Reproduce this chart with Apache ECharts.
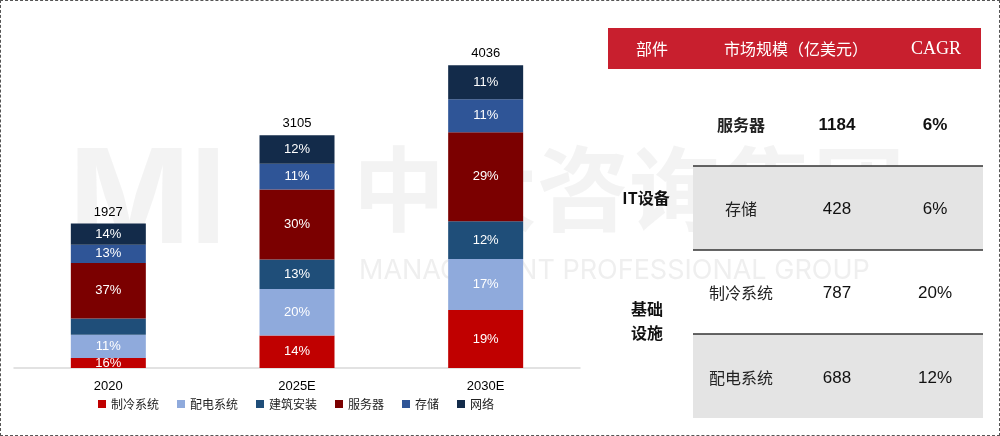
<!DOCTYPE html>
<html>
<head>
<meta charset="utf-8">
<script src="https://cdn.jsdelivr.net/npm/echarts@6/dist/echarts.min.js"></script>
<style>
  html, body { margin: 0; padding: 0; background: #fff; }
  #main { position: absolute; left: 0; top: 0; width: 998px; height: 434px; border: 1px dashed #555; }
</style>
</head>
<body>
<div id="main"></div>
<script>
// 年份
var years = ['2020', '2025E', '2030E'];
var totals = [1927, 3105, 4036];
// 各部件规模（亿美元，按图中柱高估算）
var seriesNames = ['制冷系统', '配电系统', '建筑安装', '服务器', '存储', '网络'];
var colors = ['#c00000', '#8faadc', '#1f4e79', '#7b0000', '#2f5597', '#132b4a'];
var cooling = [135, 434, 773];
var power = [310, 618, 679];
var building = [216, 395, 506];
var server = [740, 934, 1185];
var storage = [243, 342, 440];
var network = [283, 382, 453];
var pctLabels = [
    ['16%', '14%', '19%'],
    ['11%', '20%', '17%'],
    ['', '13%', '12%'],
    ['37%', '30%', '29%'],
    ['13%', '11%', '11%'],
    ['14%', '12%', '11%']
];
// 右侧表格
var tableHeader = ['部件', '市场规模（亿美元）', 'CAGR'];
var tableNames = ['服务器', '存储', '制冷系统', '配电系统'];
var tableValues = ['1184', '428', '787', '688'];
var tableCagr = ['6%', '6%', '20%', '12%'];

var myChart = echarts.init(document.getElementById('main'));
var font = '"Noto Sans CJK SC", sans-serif';
var valueSets = [cooling, power, building, server, storage, network];

var series = valueSets.map(function (d, i) {
    return {
        name: seriesNames[i],
        type: 'bar',
        stack: 'total',
        barWidth: 75,
        data: d,
        itemStyle: { color: colors[i] },
        label: {
            show: true,
            color: '#fff',
            fontSize: 13,
            fontFamily: 'Arial',
            formatter: function (p) { return pctLabels[i][p.dataIndex]; }
        }
    };
});
series.push({
    name: 'total',
    type: 'bar',
    stack: 'total',
    data: [0, 0, 0],
    label: {
        show: true,
        position: 'top',
        color: '#000',
        fontSize: 13,
        fontFamily: 'Arial',
        formatter: function (p) { return totals[p.dataIndex]; }
    }
});

// 表格图形
var g = [];
// 水印
g.push({ type: 'text', x: 68, y: 138, z: -10, style: { text: 'MI', fill: 'rgba(215,215,215,0.3)', fontSize: 130, fontWeight: 'bold', fontFamily: 'Inter, sans-serif' } });
g.push({ type: 'text', x: 352, y: 142, z: -10, style: { text: '中大咨询集团', fill: 'rgba(215,215,215,0.3)', fontSize: 92, fontWeight: 'bold', fontFamily: font } });
g.push({ type: 'text', x: 358, y: 256, z: -10, style: { text: 'MANAGEMENT PROFESSIONAL GROUP', fill: 'rgba(215,215,215,0.4)', fontSize: 27, fontFamily: 'Inter, sans-serif' } });

g.push({ type: 'rect', shape: { x: 607, y: 27, width: 373, height: 41 }, style: { fill: '#c81f2e' } });
var headX = [651, 795, 935];
tableHeader.forEach(function (t, i) {
    g.push({ type: 'text', x: headX[i], y: 48, style: { text: t, fill: '#fff', fontSize: i == 2 ? 18 : 16, fontFamily: i == 2 ? 'Liberation Serif' : font, align: 'center', verticalAlign: 'middle' } });
});
var rowY = [124, 208, 292, 377];
g.push({ type: 'rect', shape: { x: 692, y: 165, width: 290, height: 84 }, style: { fill: '#e4e4e4' } });
g.push({ type: 'rect', shape: { x: 692, y: 333, width: 290, height: 84 }, style: { fill: '#e4e4e4' } });
g.push({ type: 'line', shape: { x1: 692, y1: 165, x2: 982, y2: 165 }, style: { stroke: '#333', lineWidth: 1.5 } });
g.push({ type: 'line', shape: { x1: 692, y1: 249, x2: 982, y2: 249 }, style: { stroke: '#333', lineWidth: 1.5 } });
g.push({ type: 'line', shape: { x1: 692, y1: 333, x2: 982, y2: 333 }, style: { stroke: '#333', lineWidth: 1.5 } });
tableNames.forEach(function (n, i) {
    var bold = i === 0 ? 'bold' : 'normal';
    g.push({ type: 'text', x: 740, y: rowY[i], style: { text: n, fill: '#222', fontSize: 16, fontWeight: bold, fontFamily: font, align: 'center', verticalAlign: 'middle' } });
    g.push({ type: 'text', x: 836, y: rowY[i], style: { text: tableValues[i], fill: '#111', fontSize: 17, fontWeight: bold, fontFamily: 'Arial', align: 'center', verticalAlign: 'middle' } });
    g.push({ type: 'text', x: 934, y: rowY[i], style: { text: tableCagr[i], fill: '#111', fontSize: 17, fontWeight: bold, fontFamily: 'Arial', align: 'center', verticalAlign: 'middle' } });
});
g.push({ type: 'text', x: 645, y: 197, style: { text: 'IT设备', fill: '#111', fontSize: 16, fontWeight: 'bold', fontFamily: font, align: 'center', verticalAlign: 'middle' } });
g.push({ type: 'text', x: 646, y: 320, style: { text: '基础\n设施', fill: '#111', fontSize: 16, fontWeight: 'bold', lineHeight: 24, fontFamily: font, align: 'center', verticalAlign: 'middle' } });

var option = {
    animation: false,
    grid: { left: 13, right: 419, top: 37, bottom: 67 },
    legend: {
        data: seriesNames,
        bottom: 20,
        left: 92,
        itemWidth: 8,
        itemHeight: 8,
        itemGap: 18,
        icon: 'rect',
        textStyle: { fontSize: 12, color: '#222', fontFamily: font }
    },
    xAxis: {
        type: 'category',
        data: years,
        axisTick: { show: false },
        axisLine: { lineStyle: { color: '#d9d9d9', width: 1.5 } },
        axisLabel: { color: '#000', fontSize: 13, fontFamily: 'Arial', margin: 12 }
    },
    yAxis: { type: 'value', min: 0, max: 4400, show: false },
    series: series,
    graphic: g
};
myChart.setOption(option);
</script>
</body>
</html>
